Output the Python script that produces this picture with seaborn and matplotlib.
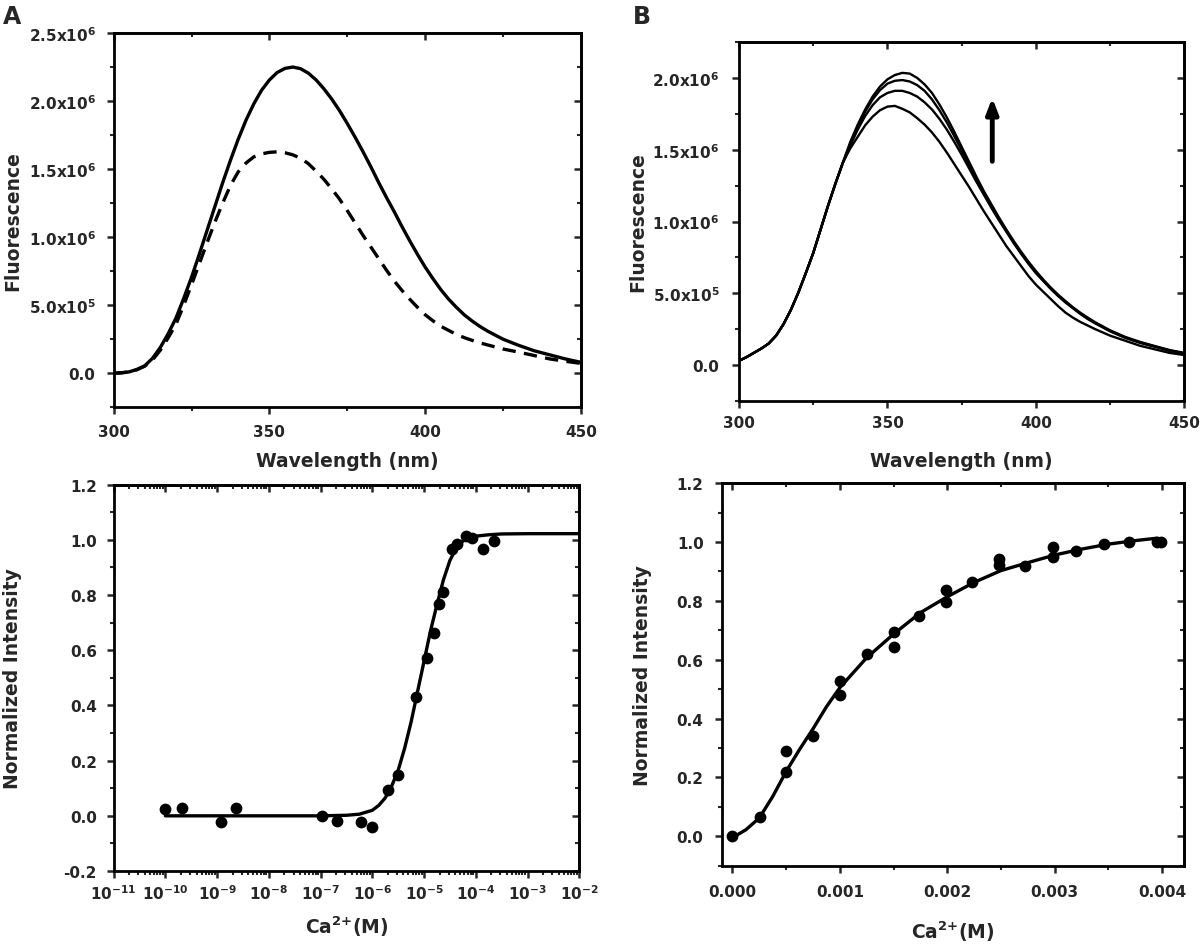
import numpy as np
import matplotlib
matplotlib.use("Agg")
import matplotlib.pyplot as plt
import matplotlib.ticker as mticker
import seaborn as sns

# ---- data ----
# panel A (top): emission spectra, fluorescence in units of 1e6
wl_a = [300, 302.5, 305, 307.5, 310, 312.5, 315, 317.5, 320, 322.5, 325, 327.5, 330, 332.5,
        335, 337.5, 340, 342.5, 345, 347.5, 350, 352.5, 355, 357.5, 360, 362.5, 365, 367.5,
        370, 372.5, 375, 377.5, 380, 382.5, 385, 387.5, 390, 392.5, 395, 397.5, 400, 402.5,
        405, 407.5, 410, 412.5, 415, 417.5, 420, 425, 430, 435, 440, 445, 450]
fl_a_solid = [0.0, 0.003, 0.01, 0.028, 0.055, 0.11, 0.19, 0.29, 0.405, 0.55, 0.705, 0.875,
              1.05, 1.225, 1.40, 1.565, 1.72, 1.86, 1.98, 2.08, 2.155, 2.21, 2.24, 2.25, 2.238,
              2.205, 2.155, 2.09, 2.015, 1.93, 1.835, 1.735, 1.63, 1.52, 1.405, 1.295, 1.19,
              1.08, 0.975, 0.875, 0.78, 0.695, 0.615, 0.545, 0.485, 0.43, 0.385, 0.345, 0.31,
              0.25, 0.205, 0.165, 0.135, 0.105, 0.08]
fl_a_dashed = [0.0, 0.003, 0.01, 0.026, 0.052, 0.098, 0.17, 0.26, 0.36, 0.50, 0.65, 0.805,
               0.96, 1.11, 1.25, 1.38, 1.48, 1.545, 1.59, 1.612, 1.623, 1.627, 1.62, 1.605,
               1.58, 1.54, 1.485, 1.425, 1.355, 1.28, 1.195, 1.105, 1.015, 0.93, 0.845, 0.76,
               0.68, 0.61, 0.545, 0.485, 0.43, 0.385, 0.345, 0.315, 0.285, 0.262, 0.242, 0.224,
               0.208, 0.178, 0.155, 0.13, 0.105, 0.088, 0.072]

# panel B (top): spectra during titration, fluorescence in units of 1e6
wl_b = [300, 302.5, 305, 307.5, 310, 312.5, 315, 317.5, 320, 322.5, 325, 327.5, 330, 332.5,
        335, 337.5, 340, 342.5, 345, 347.5, 350, 352.5, 355, 357.5, 360, 362.5, 365, 367.5,
        370, 372.5, 375, 377.5, 380, 382.5, 385, 387.5, 390, 392.5, 395, 397.5, 400, 402.5,
        405, 407.5, 410, 412.5, 415, 417.5, 420, 425, 430, 435, 440, 445, 450]
rise_b = [0.03, 0.055, 0.085, 0.115, 0.15, 0.205, 0.285, 0.385, 0.505, 0.64, 0.78, 0.945,
          1.11, 1.265, 1.41]
fl_b1 = rise_b + [1.51, 1.59, 1.67, 1.73, 1.775, 1.80, 1.805, 1.785, 1.76, 1.72, 1.675, 1.62,
                  1.555, 1.48, 1.40, 1.32, 1.24, 1.155, 1.07, 0.99, 0.91, 0.83, 0.76, 0.69,
                  0.62, 0.56, 0.51, 0.46, 0.41, 0.365, 0.33, 0.30, 0.275, 0.25, 0.205, 0.17,
                  0.135, 0.11, 0.085, 0.07]
fl_b2 = rise_b + [1.53, 1.64, 1.735, 1.81, 1.865, 1.895, 1.91, 1.91, 1.895, 1.87, 1.83, 1.78,
                  1.715, 1.64, 1.555, 1.465, 1.37, 1.275, 1.185, 1.095, 1.01, 0.93, 0.85,
                  0.775, 0.705, 0.64, 0.585, 0.53, 0.48, 0.435, 0.395, 0.355, 0.32, 0.29, 0.235,
                  0.19, 0.155, 0.128, 0.1, 0.08]
fl_b3 = rise_b + [1.545, 1.66, 1.765, 1.85, 1.915, 1.96, 1.98, 1.985, 1.975, 1.95, 1.91, 1.85,
                  1.775, 1.69, 1.595, 1.495, 1.395, 1.295, 1.2, 1.11, 1.02, 0.935, 0.855,
                  0.78, 0.71, 0.645, 0.59, 0.535, 0.485, 0.44, 0.398, 0.36, 0.325, 0.294, 0.238,
                  0.193, 0.158, 0.13, 0.102, 0.082]
fl_b4 = rise_b + [1.555, 1.675, 1.78, 1.87, 1.94, 1.99, 2.02, 2.035, 2.03, 2.00, 1.955, 1.895,
                  1.815, 1.725, 1.625, 1.52, 1.415, 1.31, 1.21, 1.12, 1.03, 0.945, 0.865,
                  0.79, 0.72, 0.655, 0.595, 0.54, 0.49, 0.445, 0.402, 0.364, 0.33, 0.298, 0.242,
                  0.197, 0.162, 0.133, 0.105, 0.085]

# panel A (bottom): Ca2+ titration on log scale
ca_a = [1.0e-10, 2.1e-10, 1.2e-9, 2.3e-9, 1.05e-7, 2.1e-7, 6.1e-7, 1.0e-6, 2.0e-6, 3.1e-6,
        7.1e-6, 1.12e-5, 1.55e-5, 1.95e-5, 2.3e-5, 3.4e-5, 4.4e-5, 6.5e-5, 8.5e-5, 1.4e-4, 2.3e-4]
int_a = [0.023, 0.029, -0.022, 0.029, -0.001, -0.018, -0.022, -0.041, 0.095, 0.147,
         0.431, 0.570, 0.663, 0.769, 0.810, 0.965, 0.983, 1.013, 1.007, 0.967, 0.995]
fit_a_x = [1e-10, 1e-8, 1e-7, 10**-6.5, 10**-6.25, 1e-6, 10**-5.875, 10**-5.75, 10**-5.625,
           10**-5.5, 10**-5.375, 10**-5.25, 10**-5.125, 1e-5, 10**-4.875, 10**-4.75,
           10**-4.625, 10**-4.5, 10**-4.375, 10**-4.25, 10**-4.125, 1e-4, 10**-3.75,
           10**-3.5, 1e-3, 1e-2]
fit_a_y = [0.0, 0.0, 0.0, 0.002, 0.006, 0.02, 0.038, 0.065, 0.108, 0.165, 0.245, 0.34, 0.45,
           0.56, 0.67, 0.765, 0.855, 0.925, 0.97, 0.995, 1.007, 1.013, 1.018, 1.021, 1.022,
           1.022]

# panel B (bottom): Ca2+ titration on linear scale
ca_b = [0.0, 0.000254, 0.0005, 0.0005, 0.00075, 0.001, 0.001, 0.00125, 0.0015, 0.0015,
        0.00174, 0.00199, 0.00199, 0.00223, 0.00248, 0.00248, 0.00272, 0.00298, 0.00298,
        0.0032, 0.00346, 0.00369, 0.00395, 0.00399]
int_b = [0.0, 0.065, 0.29, 0.22, 0.34, 0.528, 0.479, 0.619, 0.693, 0.644,
         0.749, 0.838, 0.795, 0.865, 0.942, 0.923, 0.920, 0.982, 0.948,
         0.971, 0.993, 1.001, 0.999, 0.999]
fit_b_x = [0.0, 0.000125, 0.00025, 0.000375, 0.0005, 0.000625, 0.00075, 0.000875, 0.001,
           0.00125, 0.0015, 0.00175, 0.002, 0.00225, 0.0025, 0.00275, 0.003, 0.00325,
           0.0035, 0.00375, 0.00395]
fit_b_y = [-0.005, 0.022, 0.062, 0.135, 0.22, 0.295, 0.365, 0.44, 0.505, 0.607, 0.687, 0.76,
           0.814, 0.863, 0.903, 0.93, 0.956, 0.976, 0.993, 1.005, 1.013]

# ---- style ----
sns.set_style("ticks")
plt.rcParams['font.family'] = ['DejaVu Sans']
plt.rcParams['font.weight'] = 'bold'
plt.rcParams['axes.labelweight'] = 'bold'
plt.rcParams['mathtext.fontset'] = 'dejavusans'
plt.rcParams['mathtext.default'] = 'bf'

LW = 2.4
TICK_FS = 11
LABEL_FS = 13.5


def sci_fmt(v, pos):
    if abs(v) < 1e-9:
        return '0.0'
    e = int(np.floor(np.log10(abs(v))))
    return f'{v / 10**e:.1f}x10$^{{{e}}}$'


def log_fmt(v, pos):
    return f'10$^{{{int(round(np.log10(v)))}}}$'


def frame(ax, xpad, ypad):
    for s in ax.spines.values():
        s.set_linewidth(2.0)
        s.set_color('black')
    ax.tick_params(which='major', direction='out', length=5, width=1.8, labelsize=TICK_FS)
    ax.tick_params(which='minor', direction='out', length=3, width=1.5)
    ax.tick_params(axis='x', which='major', pad=xpad)
    ax.tick_params(axis='y', which='major', pad=ypad)
    # mirrored ticks pointing inward on top and right
    top = ax.secondary_xaxis('top')
    right = ax.secondary_yaxis('right')
    top.xaxis.set_major_locator(ax.xaxis.get_major_locator())
    top.xaxis.set_minor_locator(ax.xaxis.get_minor_locator())
    right.yaxis.set_major_locator(ax.yaxis.get_major_locator())
    right.yaxis.set_minor_locator(ax.yaxis.get_minor_locator())
    for sec in (top, right):
        sec.tick_params(which='major', direction='in', length=5, width=1.8,
                        labeltop=False, labelright=False)
        sec.tick_params(which='minor', direction='in', length=3, width=1.5)
        for s in sec.spines.values():
            s.set_linewidth(2.0)


fig = plt.figure(figsize=(12, 9.45), dpi=100)

# ---- A top ----
ax1 = fig.add_axes([0.0947, 0.568, 0.3894, 0.396])
sns.lineplot(x=wl_a, y=np.array(fl_a_solid) * 1e6, ax=ax1, color='black', lw=LW)
sns.lineplot(x=wl_a, y=np.array(fl_a_dashed) * 1e6, ax=ax1, color='black', lw=LW,
             dashes=False, linestyle=(0, (4, 2.5)))
ax1.set_xlim(300, 450)
ax1.set_ylim(-0.25e6, 2.5e6)
ax1.xaxis.set_major_locator(mticker.MultipleLocator(50))
ax1.xaxis.set_minor_locator(mticker.MultipleLocator(25))
ax1.yaxis.set_major_locator(mticker.MultipleLocator(5e5))
ax1.yaxis.set_minor_locator(mticker.MultipleLocator(2.5e5))
ax1.yaxis.set_major_formatter(mticker.FuncFormatter(sci_fmt))
ax1.set_xlabel('Wavelength (nm)', fontsize=LABEL_FS)
ax1.set_ylabel('Fluorescence', fontsize=LABEL_FS)
ax1.xaxis.set_label_coords(0.5, -0.117)
ax1.yaxis.set_label_coords(-0.196, 0.5)
frame(ax1, xpad=7, ypad=8)

# ---- B top ----
ax2 = fig.add_axes([0.6158, 0.5746, 0.3712, 0.3799])
for fl in (fl_b1, fl_b2, fl_b3, fl_b4):
    sns.lineplot(x=wl_b, y=np.array(fl) * 1e6, ax=ax2, color='black', lw=1.7)
ax2.set_xlim(300, 450)
ax2.set_ylim(-0.25e6, 2.25e6)
ax2.xaxis.set_major_locator(mticker.MultipleLocator(50))
ax2.xaxis.set_minor_locator(mticker.MultipleLocator(25))
ax2.yaxis.set_major_locator(mticker.MultipleLocator(5e5))
ax2.yaxis.set_minor_locator(mticker.MultipleLocator(2.5e5))
ax2.yaxis.set_major_formatter(mticker.FuncFormatter(sci_fmt))
ax2.set_xlabel('Wavelength (nm)', fontsize=LABEL_FS)
ax2.set_ylabel('Fluorescence', fontsize=LABEL_FS)
ax2.xaxis.set_label_coords(0.5, -0.139)
ax2.yaxis.set_label_coords(-0.205, 0.5)
ax2.annotate('', xy=(385.3, 1.88e6), xytext=(385.3, 1.40e6),
             arrowprops=dict(arrowstyle='-|>,head_length=0.9,head_width=0.35',
                             color='black', lw=3.5))
frame(ax2, xpad=5, ypad=9)

# ---- A bottom ----
ax3 = fig.add_axes([0.0947, 0.0772, 0.388, 0.409])
ax3.set_xscale('log')
sns.lineplot(x=fit_a_x, y=fit_a_y, ax=ax3, color='black', lw=LW)
sns.scatterplot(x=ca_a, y=int_a, ax=ax3, color='black', s=72, edgecolor='black', linewidth=0)
ax3.set_xlim(1e-11, 1e-2)
ax3.set_ylim(-0.2, 1.2)
ax3.xaxis.set_major_locator(mticker.LogLocator(base=10, numticks=20))
ax3.xaxis.set_minor_locator(mticker.LogLocator(base=10, subs=np.arange(2, 10), numticks=20))
ax3.xaxis.set_major_formatter(mticker.FuncFormatter(log_fmt))
ax3.xaxis.set_minor_formatter(mticker.NullFormatter())
ax3.yaxis.set_major_locator(mticker.MultipleLocator(0.2))
ax3.yaxis.set_minor_locator(mticker.MultipleLocator(0.1))
ax3.yaxis.set_major_formatter(mticker.FormatStrFormatter('%.1f'))
ax3.set_xlabel('Ca$^{2{+}}$(M)', fontsize=LABEL_FS)
ax3.set_ylabel('Normalized Intensity', fontsize=LABEL_FS)
ax3.xaxis.set_label_coords(0.5, -0.109)
ax3.yaxis.set_label_coords(-0.197, 0.5)
frame(ax3, xpad=4, ypad=7)

# ---- B bottom ----
ax4 = fig.add_axes([0.6014, 0.0829, 0.3849, 0.4047])
sns.lineplot(x=fit_b_x, y=fit_b_y, ax=ax4, color='black', lw=LW)
sns.scatterplot(x=ca_b, y=int_b, ax=ax4, color='black', s=72, edgecolor='black', linewidth=0)
ax4.set_xlim(-0.0001, 0.0042)
ax4.set_ylim(-0.1, 1.2)
ax4.xaxis.set_major_locator(mticker.MultipleLocator(0.001))
ax4.xaxis.set_minor_locator(mticker.MultipleLocator(0.0005))
ax4.xaxis.set_major_formatter(mticker.FormatStrFormatter('%.3f'))
ax4.yaxis.set_major_locator(mticker.MultipleLocator(0.2))
ax4.yaxis.set_minor_locator(mticker.MultipleLocator(0.1))
ax4.yaxis.set_major_formatter(mticker.FormatStrFormatter('%.1f'))
ax4.set_xlabel('Ca$^{2{+}}$(M)', fontsize=LABEL_FS)
ax4.set_ylabel('Normalized Intensity', fontsize=LABEL_FS)
ax4.xaxis.set_label_coords(0.5, -0.137)
ax4.yaxis.set_label_coords(-0.151, 0.5)
frame(ax4, xpad=8, ypad=8)

fig.text(0.002, 0.982, 'A', fontsize=17, fontweight='bold', va='center', ha='left')
fig.text(0.527, 0.982, 'B', fontsize=17, fontweight='bold', va='center', ha='left')

fig.savefig('out.png', dpi=100)
